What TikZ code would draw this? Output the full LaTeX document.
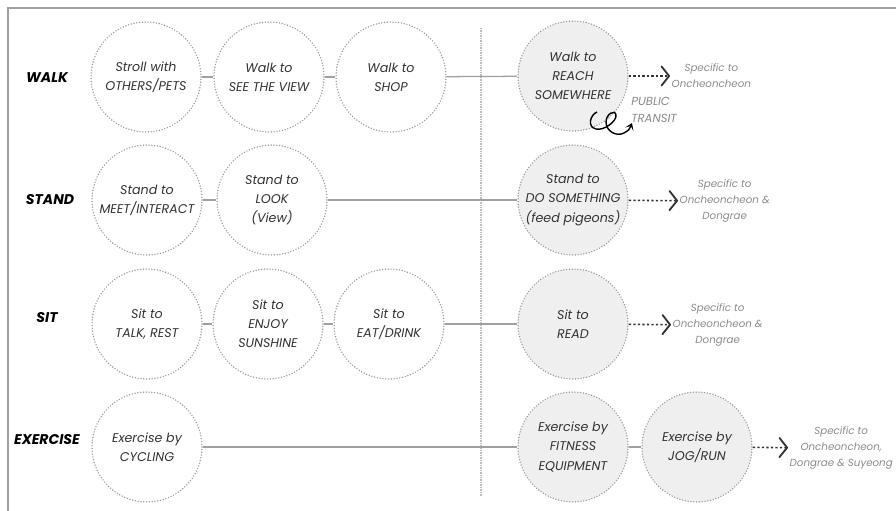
\documentclass[tikz,border=0pt]{standalone}
\usepackage{fontspec}
\setmainfont{Poppins}
\usepackage{xcolor}
\usetikzlibrary{arrows.meta,positioning}
\definecolor{ringgray}{HTML}{9A9A9A}
\definecolor{fillgray}{HTML}{EFEFEF}
\definecolor{notegray}{HTML}{8A8A8A}
\definecolor{linegray}{HTML}{A0A0A0}
\definecolor{inkgray}{HTML}{333333}
\tikzset{
  actbox/.style={circle, minimum size=2.75cm, inner sep=0pt, align=center,
    draw=ringgray, line width=1.1pt, line cap=round, dash pattern=on 0pt off 2pt,
    fill=white, text=inkgray, font=\fontsize{9}{13.6}\selectfont\itshape},
  locbox/.style={actbox, fill=fillgray},
  rowlabel/.style={font=\fontsize{10}{12}\selectfont\bfseries\itshape, text=black},
  note/.style={anchor=west, align=center, inner sep=1pt, text=notegray,
    font=\fontsize{7.3}{11.3}\selectfont\itshape},
  link/.style={draw=linegray, line width=0.9pt},
  spec/.style={draw=black!80, line width=1.1pt, dash pattern=on 1.6pt off 1.6pt,
    -{Straight Barb[length=1.9mm, width=4.8mm, line width=1.3pt, round]}},
}
\begin{document}
\begin{tikzpicture}[x=0.025cm, y=-0.025cm]
  \useasboundingbox (0,0) rectangle (896,511);
  \draw[linegray, line width=1.2pt] (8,511) -- (8,8) -- (896,8);
  \draw[linegray!70, line width=0.8pt, dash pattern=on 0.6pt off 0.6pt] (481,28) -- (481,497);
  % row labels
  \node[rowlabel] (lwalk) at (47,78) {WALK};
  \node[rowlabel] (lstand) at (50,200) {STAND};
  \node[rowlabel] (lsit) at (47,318) {SIT};
  \node[rowlabel] (lexer) at (47,440) {EXERCISE};
  % walk
  \node[actbox] (w1) at (146,77) {Stroll with\\OTHERS/PETS};
  \node[actbox] (w2) at (269,77) {Walk to\\SEE THE VIEW};
  \node[actbox] (w3) at (391,77) {Walk to\\SHOP};
  \node[locbox] (w4) at (573,76) {Walk to\\REACH\\SOMEWHERE};
  % stand
  \node[actbox] (t1) at (147,200) {Stand to\\MEET/INTERACT};
  \node[actbox] (t2) at (272,200) {Stand to\\LOOK\\(View)};
  \node[locbox] (t3) at (573,200) {Stand to\\DO SOMETHING\\(feed pigeons)};
  % sit
  \node[actbox] (s1) at (147,324) {Sit to\\TALK, REST};
  \node[actbox] (s2) at (268,324) {Sit to\\ENJOY\\SUNSHINE};
  \node[actbox] (s3) at (389,324) {Sit to\\EAT/DRINK};
  \node[locbox] (s4) at (573,324) {Sit to\\READ};
  % exercise
  \node[actbox] (e1) at (147,447) {Exercise by\\CYCLING};
  \node[locbox] (e2) at (573,447) {Exercise by\\FITNESS\\EQUIPMENT};
  \node[locbox] (e3) at (697,447) {Exercise by\\JOG/RUN};
  % links
  \draw[link] (w1) -- (w2);
  \draw[link] (w2) -- (w3);
  \draw[link] (w3) -- (w4);
  \draw[link] (t1) -- (t2);
  \draw[link] (t2) -- (t3);
  \draw[link] (s1) -- (s2);
  \draw[link] (s2) -- (s3);
  \draw[link] (s3) -- (s4);
  \draw[link] (e1) -- (e2);
  \draw[link] (e2) -- (e3);
  % specific notes
  \node[note] (n1) at (670,76) {Specific to\\Oncheoncheon};
  \node[note] (n2) at (678,201) {Specific to\\Oncheoncheon \&\\Dongrae};
  \node[note] (n3) at (671,325) {Specific to\\Oncheoncheon \&\\Dongrae};
  \node[note] (n4) at (788,448) {Specific to\\Oncheoncheon,\\Dongrae \& Suyeong};
  \draw[spec] (w4.east |- n1.west) -- (n1.west);
  \draw[spec] (t3) -- (n2);
  \draw[spec] (s4) -- (n3);
  \draw[spec] (e3) -- (n4);
  % public transit
  \node[anchor=west, align=left, inner sep=0pt, text=notegray,
    font=\fontsize{8.3}{11.5}\selectfont\itshape] (pt) at (631,110) {PUBLIC\\TRANSIT};
  \coordinate (curl) at (597,112);
  \draw[black, line width=1pt, -{Stealth[length=1.7mm, width=2.2mm, inset=0.9mm]}]
    (curl) .. controls (590,115) and (587,127) .. (596,129)
    .. controls (604,131) and (617,121) .. (616,115)
    .. controls (615,109) and (606,114) .. (606,122)
    .. controls (606,131) and (616,137) .. (624,133)
    .. controls (629,130) .. (632,123);
\end{tikzpicture}
\end{document}
